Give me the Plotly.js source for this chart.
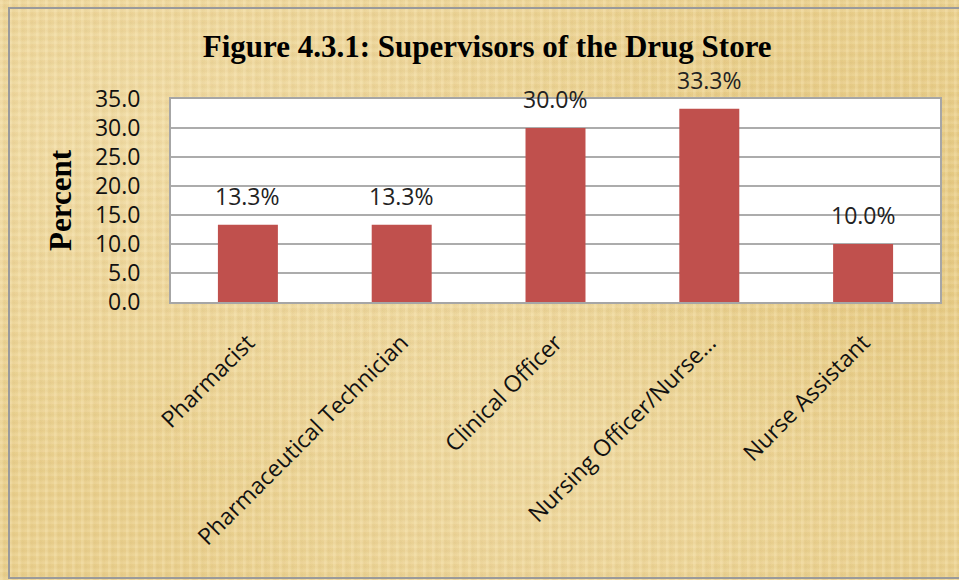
<!DOCTYPE html>
<html>
<head>
<meta charset="utf-8">
<script src="https://cdn.plot.ly/plotly-3.0.1.min.js"></script>
<style>
  html, body { margin: 0; padding: 0; }
  body {
    width: 959px; height: 580px; overflow: hidden;
    background-color: #ead08f;
    background-image:
      repeating-linear-gradient(90deg, rgba(255,243,205,0.18) 0px, rgba(255,243,205,0.18) 2px, rgba(185,150,70,0.07) 4px, rgba(255,243,205,0) 9px),
      repeating-linear-gradient(0deg, rgba(255,243,205,0.14) 0px, rgba(255,243,205,0.14) 2px, rgba(185,150,70,0.07) 5px, rgba(255,243,205,0) 8px),
      radial-gradient(ellipse at 15% 25%, rgba(246,230,185,0.55), rgba(236,213,155,0) 55%),
      radial-gradient(ellipse at 55% 75%, rgba(244,228,182,0.5), rgba(236,213,155,0) 50%),
      radial-gradient(ellipse at 90% 40%, rgba(222,190,110,0.35), rgba(236,213,155,0) 50%);
  }
  #frame {
    position: absolute; left: 8px; top: 7px; width: 960px; height: 572px;
    border: 2px solid #9a9a9a; box-sizing: border-box; pointer-events: none; z-index: 5;
  }
  #chart { position: absolute; left: 0; top: 0; width: 959px; height: 580px; }
</style>
</head>
<body>
<div id="chart"></div>
<div id="frame"></div>
<script>
const categories = ["Pharmacist", "Pharmaceutical Technician", "Clinical Officer", "Nursing Officer/Nurse…", "Nurse Assistant"];
const percentValues = [13.3, 13.3, 30.0, 33.3, 10.0];
const dataLabels = ["13.3%", "13.3%", "30.0%", "33.3%", "10.0%"];
const yTickValues = [0, 5, 10, 15, 20, 25, 30, 35];
const yTickLabels = ["0.0", "5.0", "10.0", "15.0", "20.0", "25.0", "30.0", "35.0"];

const sansFont = "Open Sans, Noto Sans, sans-serif";
const serifFont = "Liberation Serif, Times New Roman, serif";

const trace = {
  type: "bar",
  x: categories,
  y: percentValues,
  cliponaxis: false,
  marker: { color: "#c0504d", line: { color: "#c0504d", width: 0 } },
  hoverinfo: "skip"
};

const labelAnnotations = categories.map((c, i) => ({
  x: c, y: percentValues[i], xref: "x", yref: "y",
  text: dataLabels[i], showarrow: false,
  xanchor: "center", yanchor: "bottom", yshift: 11,
  font: { family: sansFont, size: 23, color: "#222" }
}));

const layout = {
  width: 959, height: 580,
  paper_bgcolor: "rgba(0,0,0,0)",
  plot_bgcolor: "#ffffff",
  margin: { l: 171, r: 19, t: 99, b: 278 },
  bargap: 0.61,
  showlegend: false,
  annotations: labelAnnotations,
  title: {
    text: "Figure 4.3.1: Supervisors of the Drug Store",
    font: { family: serifFont, size: 31, color: "#000", weight: "bold" },
    x: 0.508, xanchor: "center", y: 0.921, yanchor: "middle"
  },
  xaxis: {
    type: "category",
    tickangle: -45,
    tickfont: { family: sansFont, size: 23, color: "#111" },
    showline: true, linecolor: "#a6a6a6", linewidth: 2, mirror: true,
    ticks: "", showgrid: false, ticklabelstandoff: 16
  },
  yaxis: {
    range: [0, 35],
    tickvals: yTickValues,
    ticktext: yTickLabels,
    tickfont: { family: sansFont, size: 23, color: "#111" },
    showgrid: true, gridcolor: "#acacac", gridwidth: 2,
    showline: true, linecolor: "#a6a6a6", linewidth: 2, mirror: true,
    zeroline: false, ticks: "", ticklabelstandoff: 24,
    title: {
      text: "Percent",
      font: { family: serifFont, size: 31, color: "#000", weight: "bold" },
      standoff: 14
    }
  }
};

Plotly.newPlot("chart", [trace], layout, { displayModeBar: false, staticPlot: true });
</script>
</body>
</html>
